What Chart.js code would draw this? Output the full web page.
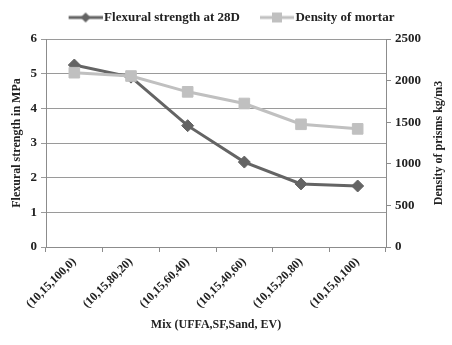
<!DOCTYPE html>
<html>
<head>
<meta charset="utf-8">
<script src="https://cdn.jsdelivr.net/npm/chart.js@4"></script>
<style>
  html, body { margin: 0; padding: 0; background: #fff; }
  #wrap { width: 452px; height: 345px; }
</style>
</head>
<body>
<div id="wrap"><canvas id="mixChart" width="452" height="345"></canvas></div>
<script>
// 데이터
const mixLabels = ["(10,15,100,0)", "(10,15,80,20)", "(10,15,60,40)", "(10,15,40,60)", "(10,15,20,80)", "(10,15,0,100)"];
const flexural = [5.25, 4.9, 3.5, 2.45, 1.82, 1.76];
const density = [2095, 2055, 1865, 1725, 1475, 1420];
const leftTicks = [0, 1, 2, 3, 4, 5, 6];
const rightTicks = [0, 500, 1000, 1500, 2000, 2500];

const darkGray = "#646464";
const lightGray = "#c0c0c0";
const serif = "'Liberation Serif', 'Times New Roman', serif";

// 범례 아이콘 (선 + 마커), 왼쪽은 투명 여백
function legendIcon(color, shape) {
  const c = document.createElement('canvas');
  c.width = 50; c.height = 14;
  const g = c.getContext('2d');
  g.strokeStyle = color;
  g.lineWidth = 3;
  g.beginPath(); g.moveTo(16, 7); g.lineTo(50, 7); g.stroke();
  g.fillStyle = color;
  g.beginPath();
  if (shape === 'diamond') {
    g.moveTo(33, 2); g.lineTo(38, 7); g.lineTo(33, 12); g.lineTo(28, 7);
  } else {
    g.rect(28, 2, 10, 10);
  }
  g.closePath(); g.fill();
  return c;
}

// 범례 위로 올리기 + 오른쪽 축 제목 (아래에서 위로 읽기)
const tweaks = {
  id: 'tweaks',
  afterLayout(chart) {
    chart.legend.top -= 5;
    chart.legend.bottom -= 5;
  },
  afterDraw(chart) {
    const { ctx, chartArea } = chart;
    ctx.save();
    ctx.translate(439, (chartArea.top + chartArea.bottom) / 2);
    ctx.rotate(-Math.PI / 2);
    ctx.font = "bold 12px " + serif;
    ctx.fillStyle = '#222';
    ctx.textAlign = 'center';
    ctx.textBaseline = 'middle';
    ctx.fillText('Density of prisms kg/m3', 0, 0);
    ctx.restore();
  }
};

const ctx = document.getElementById('mixChart').getContext('2d');
new Chart(ctx, {
  type: 'line',
  data: {
    labels: mixLabels,
    datasets: [
      {
        label: 'Flexural strength at 28D',
        data: flexural,
        yAxisID: 'y',
        borderColor: darkGray,
        backgroundColor: darkGray,
        borderWidth: 3,
        pointStyle: 'rectRot',
        pointRadius: 6,
        pointBorderWidth: 1,
        tension: 0,
        order: 2
      },
      {
        label: 'Density of mortar',
        data: density,
        yAxisID: 'y1',
        borderColor: lightGray,
        backgroundColor: lightGray,
        borderWidth: 3,
        pointStyle: 'rect',
        pointRadius: 7.5,
        pointBorderWidth: 1,
        tension: 0,
        order: 1
      }
    ]
  },
  options: {
    responsive: false,
    animation: false,
    layout: { padding: 0 },
    plugins: {
      tooltip: { enabled: false },
      legend: {
        position: 'top',
        labels: {
          usePointStyle: true,
          pointStyleWidth: 40,
          color: '#222',
          font: { family: serif, size: 13, weight: 'bold' },
          padding: 9,
          generateLabels: (chart) => [
            { text: 'Flexural strength at 28D', pointStyle: legendIcon(darkGray, 'diamond'), datasetIndex: 0, fontColor: '#222' },
            { text: 'Density of mortar', pointStyle: legendIcon(lightGray, 'square'), datasetIndex: 1, fontColor: '#222' }
          ]
        }
      }
    },
    scales: {
      x: {
        offset: true,
        grid: { display: true, drawOnChartArea: false, color: '#8c8c8c', tickLength: 5, offset: true },
        border: { color: '#8c8c8c' },
        ticks: {
          color: '#222',
          minRotation: 45, maxRotation: 45,
          font: { family: serif, size: 12, weight: 'bold' }
        },
        title: {
          display: true,
          text: 'Mix (UFFA,SF,Sand, EV)',
          color: '#222',
          font: { family: serif, size: 12, weight: 'bold' },
          padding: { top: 2, bottom: 13 }
        },
        afterFit: (s) => { s.height = 98; }
      },
      y: {
        position: 'left',
        min: 0, max: 6,
        afterBuildTicks: (s) => { s.ticks = leftTicks.map(v => ({ value: v })); },
        grid: { color: '#9a9a9a', tickLength: 5 },
        border: { color: '#8c8c8c' },
        ticks: { color: '#222', padding: 4, font: { family: serif, size: 13, weight: 'bold' } },
        title: {
          display: true,
          text: 'Flexural strength in MPa',
          color: '#222',
          font: { family: serif, size: 12, weight: 'bold' },
          padding: { top: 10, bottom: 0 }
        },
        afterFit: (s) => { s.width = 46; s.paddingTop = 39; }
      },
      y1: {
        position: 'right',
        min: 0, max: 2500,
        afterBuildTicks: (s) => { s.ticks = rightTicks.map(v => ({ value: v })); },
        grid: { drawOnChartArea: false, color: '#8c8c8c', tickLength: 5 },
        border: { color: '#8c8c8c' },
        ticks: {
          color: '#222', padding: 4,
          font: { family: serif, size: 13, weight: 'bold' },
          callback: (v) => String(v)
        },
        afterFit: (s) => { s.width = 66; }
      }
    }
  },
  plugins: [tweaks]
});
</script>
</body>
</html>
